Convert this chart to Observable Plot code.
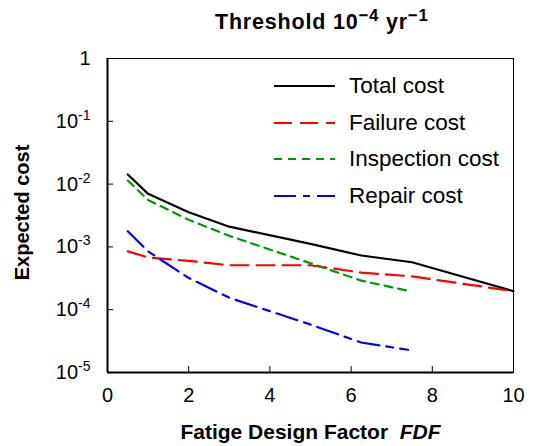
<!DOCTYPE html>
<html><head><meta charset="utf-8">
<script src="https://cdn.jsdelivr.net/npm/d3@7"></script>
<script src="https://cdn.jsdelivr.net/npm/@observablehq/plot@0.6"></script>
<style>
body{margin:0;background:#fff;font-family:"Liberation Sans",Arial,Helvetica,sans-serif;}
#wrap{position:relative;width:536px;height:446px;overflow:hidden;}
#title{height:40px;box-sizing:border-box;padding-left:215px;width:536px;text-align:left;font-weight:bold;font-size:21.5px;letter-spacing:0.8px;padding-top:10px;line-height:24px;white-space:nowrap;}
#title sup{font-size:0.78em;line-height:0;vertical-align:0.5em;}
.leg{position:absolute;left:274px;display:flex;align-items:center;height:26px;font-size:22.5px;white-space:nowrap;}
.leg svg{margin-right:14px;display:block;}
</style></head><body>
<div id="wrap"><div id="title">Threshold 10<sup>−4</sup> yr<sup>−1</sup></div><div id="chart"></div></div>
<script>
const fdf = [0.5, 1, 2, 3, 5, 6.25, 7.5, 10];
const totalCost = [0.0142, 0.0070, 0.00357, 0.0021, 0.00112, 0.00073, 0.00057, 0.000197];
const failureCost = [0.00085, 0.00068, 0.0006, 0.00051, 0.00051, 0.00039, 0.00034, 0.000197];
const fdfShort = [0.5, 1, 2, 3, 5, 6.25, 7.4];
const inspectionCost = [0.0114, 0.0056, 0.0027, 0.0015, 0.00055, 0.00029, 0.0002];
const repairCost = [0.00178, 0.00085, 0.00032, 0.000155, 0.000058, 0.00003, 0.000023];
const seriesNames = ["Total cost", "Failure cost", "Inspection cost", "Repair cost"];
const seriesColors = ["#000000", "#ff0000", "#009a00", "#0000ff"];
const seriesDash = [null, "18,8", "8,6", "22,7,7,7"];
const xTicks = [0, 2, 4, 6, 8, 10];
const yTicks = [1e-5, 1e-4, 1e-3, 1e-2, 1e-1, 1];
const xLabel = "Fatige Design Factor  FDF";
const yLabel = "Expected cost";

const rows = [];
fdf.forEach((x, i) => { rows.push({s: 0, x, y: totalCost[i]}); rows.push({s: 1, x, y: failureCost[i]}); });
fdfShort.forEach((x, i) => { rows.push({s: 2, x, y: inspectionCost[i]}); rows.push({s: 3, x, y: repairCost[i]}); });

const lines = seriesNames.map((name, k) => Plot.line(rows.filter(r => r.s === k), {
  x: "x", y: "y", stroke: seriesColors[k], strokeDasharray: seriesDash[k], strokeWidth: 2.2
}));

const fmt = d => d === 1 ? "1" : "10^" + Math.round(Math.log10(d));

const chart = Plot.plot({
  width: 536, height: 406,
  marginLeft: 107, marginRight: 23, marginTop: 18, marginBottom: 74,
  style: {fontFamily: '"Liberation Sans", Arial, Helvetica, sans-serif', fontSize: "20px", color: "#000", background: "#fff"},
  x: {domain: [0, 10]},
  y: {type: "log", domain: [1e-5, 1]},
  marks: [
    ...lines,
    Plot.frame({strokeWidth: 1}),
    Plot.ruleX([0], {strokeWidth: 2}),
    Plot.ruleY([1e-5], {strokeWidth: 2}),
    Plot.axisY(yTicks, {tickSize: 6, dx: 6, fill: "none", label: null}),
    Plot.axisY(yTicks, {tickSize: 0, tickPadding: 17, tickFormat: fmt, label: null}),
    Plot.axisX(xTicks, {tickSize: 6, dy: -6, fill: "none", label: null}),
    Plot.axisX(xTicks, {tickSize: 0, tickPadding: 15, label: null}),
    Plot.text([xLabel], {text: d => d, frameAnchor: "bottom", dy: 60, fontWeight: "bold", fontSize: 21, lineAnchor: "middle"}),
    Plot.text([yLabel], {text: d => d, frameAnchor: "left", dx: -85, dy: -3, rotate: -90, textAnchor: "middle", fontWeight: "bold", fontSize: 20, lineAnchor: "middle"})
  ]
});

d3.select(chart).selectAll("text").each(function() {
  const s = this.textContent;
  const m = /^10\^(-?\d+)$/.exec(s);
  if (m) {
    const t = d3.select(this);
    t.text(null);
    t.append("tspan").text("10");
    t.append("tspan").attr("font-size", "14px").attr("dy", "-8").text(m[1]);
  } else if (s === xLabel) {
    const t = d3.select(this);
    t.text(null);
    t.append("tspan").text("Fatige Design Factor\u00a0\u00a0");
    t.append("tspan").attr("font-style", "italic").text("FDF");
  }
});

document.getElementById("chart").appendChild(chart);

const wrap = document.getElementById("wrap");
seriesNames.forEach((name, k) => {
  const row = document.createElement("div");
  row.className = "leg";
  row.style.top = (86 + k * 36.7 - 13) + "px";
  const sv = d3.create("svg").attr("width", 61).attr("height", 8);
  sv.append("line").attr("x1", 0).attr("x2", 61).attr("y1", 4).attr("y2", 4)
    .attr("stroke", seriesColors[k]).attr("stroke-width", 2.2)
    .attr("stroke-dasharray", seriesDash[k]);
  row.appendChild(sv.node());
  const sp = document.createElement("span");
  sp.textContent = name;
  row.appendChild(sp);
  wrap.appendChild(row);
});
</script>
</body></html>
